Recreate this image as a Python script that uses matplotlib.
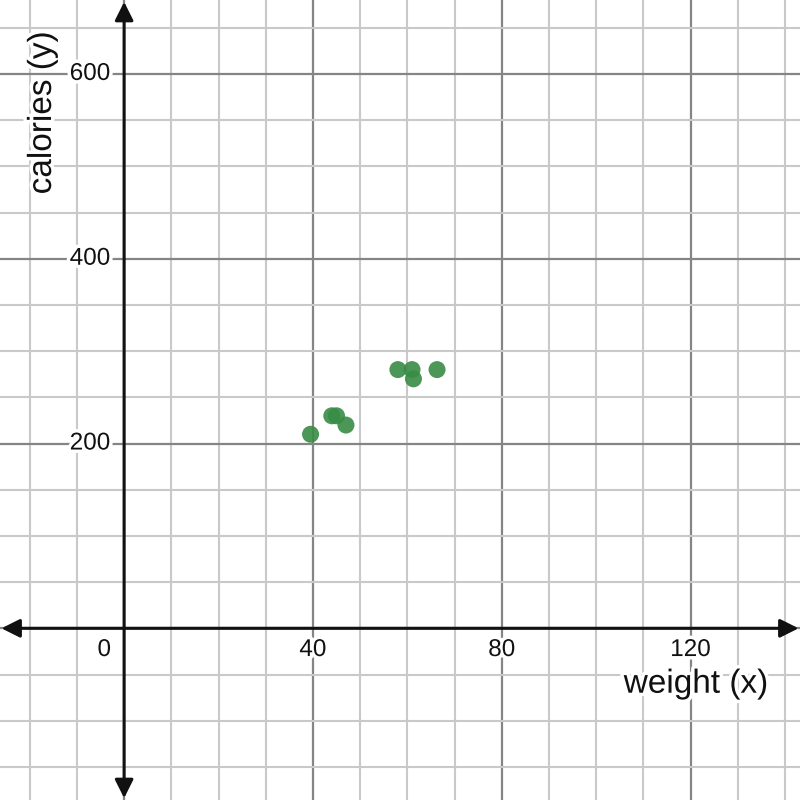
import matplotlib
matplotlib.use("Agg")
import matplotlib.pyplot as plt
import matplotlib.patheffects as pe
import numpy as np

weight = [39.5, 44, 45, 47, 58, 61, 61.3, 66.3]
calories = [210, 230, 230, 220, 280, 280, 270, 280]
x_ticks = [40, 80, 120]
y_ticks = [200, 400, 600]

XMIN, XMAX = -26.3, 143.2
YMIN, YMAX = -185.8, 680.0

plt.rcParams['font.family'] = ['Liberation Sans', 'DejaVu Sans']
fig = plt.figure(figsize=(8, 8), dpi=100)
ax = fig.add_axes([0, 0, 1, 1])
ax.set_xlim(XMIN, XMAX)
ax.set_ylim(YMIN, YMAX)
ax.axis('off')

# grid
for gx in np.arange(-20, 141, 10):
    major = (gx % 40 == 0)
    ax.axvline(gx, color='#858585' if major else '#c9c9c9', lw=1.6 if major else 1.5, zorder=1)
for gy in np.arange(-150, 680, 50):
    major = (gy % 200 == 0)
    ax.axhline(gy, color='#858585' if major else '#c9c9c9', lw=1.6 if major else 1.5, zorder=1)

# axes with arrows
akw = dict(arrowstyle='<|-|>', color='#111111', lw=2.2, mutation_scale=28, shrinkA=0, shrinkB=0)
ax.annotate('', xy=(XMAX - 0.3, 0), xytext=(XMIN + 0.3, 0), arrowprops=akw, zorder=3)
ax.annotate('', xy=(0, YMAX - 2), xytext=(0, YMIN + 2), arrowprops=akw, zorder=3)

halo = [pe.withStroke(linewidth=5, foreground='white')]
fs = 17.5
for t in x_ticks:
    ax.text(t, -23.5, str(t), ha='center', va='center', fontsize=fs, color='#111111',
            path_effects=halo, zorder=4)
ax.text(-4.2, -23.5, '0', ha='center', va='center', fontsize=fs, color='#111111',
        path_effects=halo, zorder=4)
for t in y_ticks:
    ax.text(-2.9, t, str(t), ha='right', va='center', fontsize=fs, color='#111111',
            path_effects=halo, zorder=4)

ax.text(121.2, -60.5, 'weight (x)', ha='center', va='center', fontsize=24, color='#111111',
        path_effects=halo, zorder=4)
ax.text(-17.3, 558, 'calories (y)', ha='center', va='center', rotation=90, fontsize=24,
        color='#111111', path_effects=halo, zorder=4)

ax.scatter(weight, calories, s=150, color='#388c46', alpha=0.9, edgecolors='none', zorder=5)

fig.savefig('out.png', dpi=100)
